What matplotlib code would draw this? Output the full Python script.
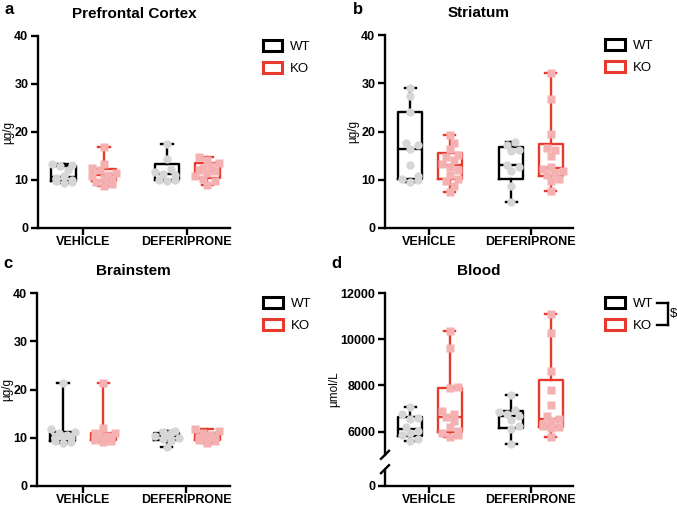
import numpy as np
import matplotlib
matplotlib.use('Agg')
import matplotlib.pyplot as plt
from matplotlib.patches import Patch
from matplotlib.lines import Line2D
from matplotlib.transforms import IdentityTransform

plt.rcParams['font.family'] = ['Liberation Sans', 'DejaVu Sans']

groups = ['VEHICLE', 'DEFERIPRONE']

# a - prefrontal cortex (ug/g)
pfc_wt = [[13.4, 13.2, 12.9, 12.0, 10.8, 10.4, 10.0, 9.8, 9.5, 9.3],
          [17.4, 14.4, 12.2, 11.7, 11.2, 11.0, 10.0, 9.9, 9.8]]
pfc_ko = [[16.8, 13.4, 12.4, 12.0, 11.5, 11.1, 10.8, 10.4, 10.0, 9.6, 9.2, 8.8],
          [14.7, 14.2, 13.6, 13.0, 12.6, 12.0, 11.8, 11.5, 10.8, 10.3, 9.8, 9.0]]

# b - striatum (ug/g)
str_wt = [[29.0, 27.3, 24.0, 17.7, 17.2, 16.3, 13.1, 10.8, 10.1, 9.9, 9.6],
          [17.8, 17.3, 16.2, 15.9, 13.0, 12.7, 11.8, 8.7, 5.3]]
str_ko = [[19.2, 17.6, 16.3, 15.2, 14.8, 14.0, 13.3, 12.7, 12.0, 11.0, 10.2, 9.8, 8.8, 7.4],
          [32.2, 26.8, 19.5, 16.6, 16.2, 15.0, 12.6, 12.2, 11.8, 11.4, 11.0, 10.2, 9.8, 7.6]]

# c - brainstem (ug/g)
bs_wt = [[21.4, 11.8, 11.2, 10.9, 10.6, 10.3, 10.1, 9.9, 9.3, 9.1, 8.9],
         [11.4, 11.1, 10.9, 10.6, 10.3, 10.0, 9.7, 9.3, 8.0]]
bs_ko = [[21.4, 12.0, 11.0, 10.9, 10.6, 10.3, 10.1, 9.9, 9.7, 9.5, 9.3, 9.2],
         [11.8, 11.3, 10.9, 10.6, 10.3, 10.1, 9.9, 9.6, 9.3, 8.9]]

# d - blood (umol/L)
bl_wt = [[7050, 6750, 6600, 6550, 6200, 6050, 5950, 5850, 5700, 5620],
         [7580, 6950, 6850, 6750, 6700, 6500, 6250, 6100, 5450]]
bl_ko = [[10360, 9600, 7920, 7880, 6900, 6750, 6640, 6450, 6200, 6050, 5950, 5850, 5760],
         [11100, 10250, 8620, 7820, 7150, 6700, 6550, 6450, 6350, 6250, 6200, 6150, 5780]]

WT_EDGE = 'black'
WT_DOT = '#d6d6d6'
KO_EDGE = '#e8392d'
KO_DOT = '#f5b1b1'
LW = 1.7


def box_stats(vals):
    v = np.asarray(vals, float)
    q1, med, q3 = np.percentile(v, [25, 50, 75], method='weibull')
    return dict(med=med, q1=q1, q3=q3, whislo=v.min(), whishi=v.max(), fliers=[])


def swarm_x(ax, xc, vals, diam=8.0, max_px=12.0):
    pts = ax.transData.transform([(xc, v) for v in vals])
    ys = pts[:, 1]
    ppu = ax.transData.transform((1, 0))[0] - ax.transData.transform((0, 0))[0]
    step = diam * 0.5
    cands = [0.0]
    for k in range(1, 8):
        cands += [k * step, -k * step]
    placed = []
    offs = np.zeros(len(vals))
    for i in np.argsort(ys):
        chosen = None
        for c in cands:
            if abs(c) > max_px:
                continue
            if all(np.hypot(c - px, ys[i] - py) >= diam * 0.85 for px, py in placed):
                chosen = c
                break
        if chosen is None:
            chosen = cands[(len(placed) % 5)] if abs(cands[len(placed) % 5]) <= max_px else 0.0
        placed.append((chosen, ys[i]))
        offs[i] = chosen
    return xc + offs / ppu


def draw_panel(ax, wt, ko, ylim, yticks, ylabel, title, letter, lpos, ylab_x):
    ax.set_xlim(-0.44, 1.42)
    ax.set_ylim(*ylim)
    for spine in ['top', 'right']:
        ax.spines[spine].set_visible(False)
    for spine in ['left', 'bottom']:
        ax.spines[spine].set_linewidth(LW)
    for i in range(2):
        for data, off, edge in [(wt[i], -0.19, WT_EDGE), (ko[i], 0.20, KO_EDGE)]:
            ax.bxp([box_stats(data)], positions=[i + off], widths=0.24,
                   showfliers=False, capwidths=0.11,
                   boxprops=dict(color=edge, lw=LW),
                   medianprops=dict(color=edge, lw=LW),
                   whiskerprops=dict(color=edge, lw=LW),
                   capprops=dict(color=edge, lw=LW),
                   manage_ticks=False, zorder=2)
    fig.canvas.draw()
    for i in range(2):
        for data, off, dot, mk in [(wt[i], -0.19, WT_DOT, 'o'), (ko[i], 0.20, KO_DOT, 's')]:
            xs = swarm_x(ax, i + off, data)
            ax.plot(xs, data, ls='none', marker=mk, ms=6 if mk == 'o' else 5.6,
                    mfc=dot, mec='none', zorder=3, clip_on=False)
    ax.set_xticks([0, 1])
    ax.set_xticklabels(groups)
    ax.set_yticks(yticks)
    ax.tick_params(axis='both', width=LW, length=5, labelsize=9, pad=2)
    ax.tick_params(axis='x', pad=1)
    for lab in ax.get_xticklabels() + ax.get_yticklabels():
        lab.set_fontweight('bold')
    ax.set_ylabel(ylabel, fontsize=8.5)
    # ylab_x = pixel column of the label's right edge
    left_px = ax.get_position().x0 * 677
    width_px = ax.get_position().width * 677
    ax.yaxis.set_label_coords((ylab_x - left_px) / width_px, 0.5)
    ax.set_title(title, fontsize=11, fontweight='bold', pad=13)
    fig.text(lpos[0] / 677, 1 - lpos[1] / 505, letter, fontsize=12,
             fontweight='bold', ha='center', va='center')
    handles = [Patch(facecolor='white', edgecolor=WT_EDGE, lw=2.2, label='WT'),
               Patch(facecolor='white', edgecolor=KO_EDGE, lw=2.2, label='KO')]
    ax.legend(handles=handles, loc='upper left', bbox_to_anchor=(1.17, 0.98),
              frameon=False, fontsize=9.5, handlelength=1.5, handleheight=0.9,
              handletextpad=0.6, labelspacing=0.7, borderpad=0, borderaxespad=0)


fig = plt.figure(figsize=(6.77, 5.05), dpi=100)

ax_a = fig.add_axes([38 / 677, 1 - 228 / 505, 192 / 677, 192 / 505])
ax_b = fig.add_axes([385 / 677, 1 - 228 / 505, 188 / 677, 193 / 505])
ax_c = fig.add_axes([37 / 677, 1 - 486 / 505, 193 / 677, 193 / 505])
ax_d = fig.add_axes([385 / 677, 1 - 486 / 505, 188 / 677, 193 / 505])

draw_panel(ax_a, pfc_wt, pfc_ko, (0, 40), [0, 10, 20, 30, 40], 'µg/g',
           'Prefrontal Cortex', 'a', (9, 9), 14)
draw_panel(ax_b, str_wt, str_ko, (0, 40), [0, 10, 20, 30, 40], 'µg/g',
           'Striatum', 'b', (358, 9), 359)
draw_panel(ax_c, bs_wt, bs_ko, (0, 40), [0, 10, 20, 30, 40], 'µg/g',
           'Brainstem', 'c', (8, 264), 13.5)

# broken axis for blood: compress the 0-5000 range
K = 0.2696


def fwd(y):
    y = np.asarray(y, float)
    return np.where(y >= 5000, y, 5000 - (5000 - y) * K)


def inv(t):
    t = np.asarray(t, float)
    return np.where(t >= 5000, t, 5000 - (5000 - t) / K)


ax_d.set_yscale('function', functions=(fwd, inv))
draw_panel(ax_d, bl_wt, bl_ko, (0, 12000), [0, 6000, 8000, 10000, 12000], 'µmol/L',
           'Blood', 'd', (336, 264), 340)
ax_d.yaxis.set_minor_locator(matplotlib.ticker.NullLocator())
ax_d.spines['left'].set_visible(False)
ytr = ax_d.get_yaxis_transform()
ax_d.plot([0, 0], [5000, 12000], transform=ytr, color='black', lw=LW,
          clip_on=False, solid_capstyle='projecting')
ax_d.plot([0, 0], [0, 2700], transform=ytr, color='black', lw=LW,
          clip_on=False, solid_capstyle='butt')
fig.canvas.draw()
for yv in [5000, 2700]:
    px, py = ytr.transform((0, yv))
    fig.add_artist(Line2D([px - 4, px + 4], [py - 4, py + 4], transform=IdentityTransform(),
                          color='black', lw=LW))

# significance bracket next to the legend
bx0, bx1 = 657, 668
for seg in [([bx0, bx1], [303, 303]), ([bx1, bx1], [303, 325]), ([bx0, bx1], [325, 325])]:
    fig.add_artist(Line2D([x / 677 for x in seg[0]], [1 - y / 505 for y in seg[1]],
                          transform=fig.transFigure, color='black', lw=LW))
fig.text(674 / 677, 1 - 314 / 505, '$', fontsize=9.5, ha='center', va='center')

fig.savefig('out.png', dpi=100)
